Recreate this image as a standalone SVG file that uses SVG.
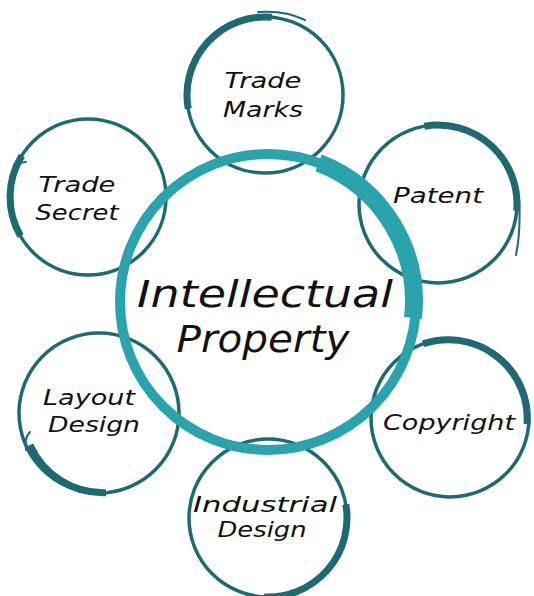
<svg xmlns="http://www.w3.org/2000/svg" width="534" height="596" viewBox="0 0 534 596">
<style>
.ring{fill:none;stroke:#1d6a70;stroke-width:3.5}
.brush{fill:none;stroke:#1d6a70;stroke-width:7;stroke-linecap:butt}
.tail{fill:none;stroke:#1d6a70;stroke-width:2;stroke-linecap:round}
.center{fill:none;stroke:#2ba3ad;stroke-width:10}
.centerbrush{fill:none;stroke:#2ba3ad;stroke-width:18}
text{font-family:"DejaVu Sans","Liberation Sans",sans-serif;font-style:italic;fill:#111;text-anchor:middle}
.lbl{font-size:21px}
.big{font-size:38px}
</style>
<rect width="534" height="596" fill="#fff"/>
<g id="trade-marks">
<circle class="ring" cx="265" cy="95" r="78"/>
<path class="brush" d="M188.2,108.6 A78,78 0 0 1 271.8,17.3"/>
<path class="tail" d="M258,12 Q285,10 305,20"/>
</g>
<g id="patent">
<circle class="ring" cx="438" cy="204" r="79"/>
<path class="brush" d="M424.3,126.2 A79,79 0 0 1 516.7,210.9"/>
<path class="tail" d="M519,200 Q521,230 516,255"/>
</g>
<g id="trade-secret">
<circle class="ring" cx="88" cy="197" r="78"/>
<path class="brush" d="M20.5,236 A78,78 0 0 1 21.9,155.7"/>
<path class="tail" d="M12,172 Q17,162 26,162"/>
</g>
<g id="copyright">
<circle class="ring" cx="450" cy="418" r="79"/>
<path class="brush" d="M423,343.8 A79,79 0 0 1 527,424"/>
</g>
<g id="layout-design">
<circle class="ring" cx="99" cy="413" r="80"/>
<path class="brush" d="M106,492.7 A80,80 0 0 1 30,445"/>
<path class="tail" d="M26,450 Q24,438 30,432"/>
</g>
<g id="industrial-design">
<circle class="ring" cx="268" cy="518" r="79"/>
<path class="brush" d="M345.8,504.3 A79,79 0 0 1 264,596.9"/>
</g>
<g id="intellectual-property">
<circle class="center" cx="268" cy="302" r="148"/>
<path class="centerbrush" d="M318.6,162.9 A148,148 0 0 1 413,318"/>
</g>
<g id="labels">
<text class="lbl" x="263" y="88" textLength="77" lengthAdjust="spacingAndGlyphs">Trade</text>
<text class="lbl" x="263" y="117" textLength="80" lengthAdjust="spacingAndGlyphs">Marks</text>
<text class="lbl" x="438" y="203" textLength="90" lengthAdjust="spacingAndGlyphs">Patent</text>
<text class="lbl" x="77" y="192" textLength="77" lengthAdjust="spacingAndGlyphs">Trade</text>
<text class="lbl" x="77" y="220" textLength="83" lengthAdjust="spacingAndGlyphs">Secret</text>
<text class="lbl" x="449" y="430" textLength="132" lengthAdjust="spacingAndGlyphs">Copyright</text>
<text class="lbl" x="89" y="405" textLength="92" lengthAdjust="spacingAndGlyphs">Layout</text>
<text class="lbl" x="94" y="432" textLength="92" lengthAdjust="spacingAndGlyphs">Design</text>
<text class="lbl" x="265" y="512" textLength="144" lengthAdjust="spacingAndGlyphs">Industrial</text>
<text class="lbl" x="262" y="537" textLength="89" lengthAdjust="spacingAndGlyphs">Design</text>
<text class="big" x="265" y="307" textLength="256" lengthAdjust="spacingAndGlyphs">Intellectual</text>
<text class="big" x="263" y="352" textLength="173" lengthAdjust="spacingAndGlyphs">Property</text>
</g>
<g id="connectors"/>
</svg>
